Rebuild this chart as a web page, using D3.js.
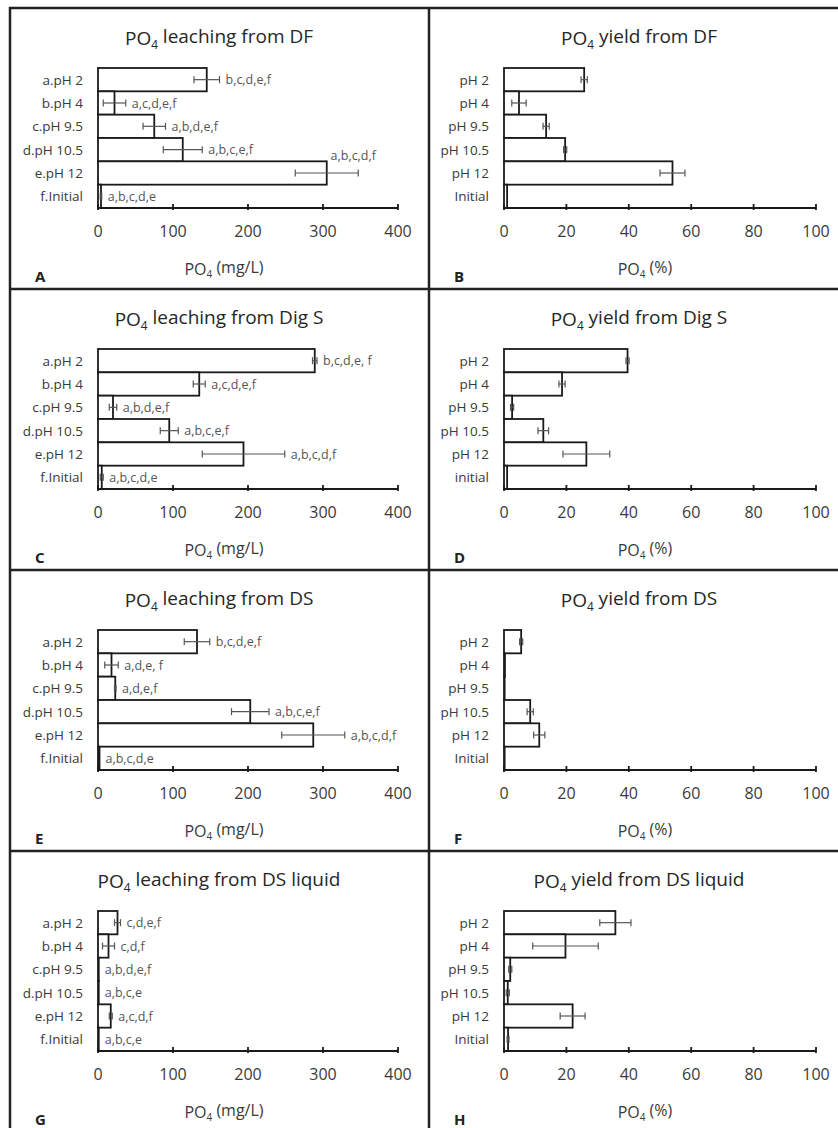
<!DOCTYPE html>
<html><head><meta charset="utf-8">
<script src="https://cdn.jsdelivr.net/npm/d3@7"></script>
<style>
html,body{margin:0;padding:0;background:#fff;}
svg{display:block;font-family:"Open Sans",Lato,sans-serif;}
</style></head>
<body>
<svg id="chart" width="838" height="1128"></svg>
<script>
// ---------- data ----------
const leachCats = ["a.pH 2","b.pH 4","c.pH 9.5","d.pH 10.5","e.pH 12","f.Initial"];
const yieldCats = ["pH 2","pH 4","pH 9.5","pH 10.5","pH 12","Initial"];
const yieldCatsDigS = ["pH 2","pH 4","pH 9.5","pH 10.5","pH 12","initial"];
const leachTicks = [0,100,200,300,400];
const yieldTicks = [0,20,40,60,80,100];

const titles = ["leaching from DF","yield from DF","leaching from Dig S","yield from Dig S",
                "leaching from DS","yield from DS","leaching from DS liquid","yield from DS liquid"];
const panelLetters = ["A","B","C","D","E","F","G","H"];

// A: PO4 leaching from DF (mg/L)
const dfLeachMean = [145, 22, 75, 113, 305, 4];
const dfLeachErr  = [17, 15, 15, 26, 42, 1];
const dfLeachSig  = ["b,c,d,e,f","a,c,d,e,f","a,b,d,e,f","a,b,c,e,f","a,b,c,d,f","a,b,c,d,e"];
// B: PO4 yield from DF (%)
const dfYieldMean = [25.7, 4.8, 13.5, 19.6, 54, 1];
const dfYieldErr  = [1, 2.3, 1, 0.5, 4, 0];
// C: PO4 leaching from Dig S (mg/L)
const digLeachMean = [289, 135, 20, 95, 194, 5];
const digLeachErr  = [3, 8, 5, 12, 55, 2];
const digLeachSig  = ["b,c,d,e, f","a,c,d,e,f","a,b,d,e,f","a,b,c,e,f","a,b,c,d,f","a,b,c,d,e"];
// D: PO4 yield from Dig S (%)
const digYieldMean = [39.6, 18.6, 2.6, 12.6, 26.4, 1];
const digYieldErr  = [0.5, 1, 0.5, 1.7, 7.5, 0];
// E: PO4 leaching from DS (mg/L)
const dsLeachMean = [132, 18, 23, 203, 287, 2];
const dsLeachErr  = [17, 9, 1, 25, 42, 0];
const dsLeachSig  = ["b,c,d,e,f","a,d,e, f","a,d,e,f","a,b,c,e,f","a,b,c,d,f","a,b,c,d,e"];
// F: PO4 yield from DS (%)
const dsYieldMean = [5.5, 0.3, 0.2, 8.4, 11.3, 0.2];
const dsYieldErr  = [0.5, 0, 0, 1, 1.8, 0];
// G: PO4 leaching from DS liquid (mg/L)
const dslLeachMean = [26, 14, 1, 1, 17, 1];
const dslLeachErr  = [4, 8, 0, 0, 2, 0];
const dslLeachSig  = ["c,d,e,f","c,d,f","a,b,d,e,f","a,b,c,e","a,c,d,f","a,b,c,e"];
// H: PO4 yield from DS liquid (%)
const dslYieldMean = [35.7, 19.7, 2, 1.2, 22, 1.3];
const dslYieldErr  = [5, 10.5, 0.5, 0.5, 4, 0.3];

const panels = [
  {cats: leachCats, mean: dfLeachMean, err: dfLeachErr, sig: dfLeachSig, ticks: leachTicks, unit: "(mg/L)"},
  {cats: yieldCats, mean: dfYieldMean, err: dfYieldErr, sig: null, ticks: yieldTicks, unit: "(%)"},
  {cats: leachCats, mean: digLeachMean, err: digLeachErr, sig: digLeachSig, ticks: leachTicks, unit: "(mg/L)"},
  {cats: yieldCatsDigS, mean: digYieldMean, err: digYieldErr, sig: null, ticks: yieldTicks, unit: "(%)"},
  {cats: leachCats, mean: dsLeachMean, err: dsLeachErr, sig: dsLeachSig, ticks: leachTicks, unit: "(mg/L)"},
  {cats: yieldCats, mean: dsYieldMean, err: dsYieldErr, sig: null, ticks: yieldTicks, unit: "(%)"},
  {cats: leachCats, mean: dslLeachMean, err: dslLeachErr, sig: dslLeachSig, ticks: leachTicks, unit: "(mg/L)"},
  {cats: yieldCats, mean: dslYieldMean, err: dslYieldErr, sig: null, ticks: yieldTicks, unit: "(%)"}
];

// ---------- layout ----------
const svg = d3.select("#chart");
const colLeft = [10, 429];
const rowTop0 = 8, rowH = 281;
const plotX = [[98, 398], [504, 816]];
const titleX = [219, 639];
const axisTitleX = [224, 645];
const textColor = "#3a3a3a";

// frame
svg.append("rect").attr("x", 10).attr("y", 8).attr("width", 900).attr("height", 1200)
  .attr("fill", "none").attr("stroke", "#222").attr("stroke-width", 2.5);
[1,2,3].forEach(r => {
  svg.append("line").attr("x1", 10).attr("x2", 900)
    .attr("y1", rowTop0 + r*rowH).attr("y2", rowTop0 + r*rowH)
    .attr("stroke", "#222").attr("stroke-width", 2.5);
});
svg.append("line").attr("x1", 429).attr("x2", 429).attr("y1", 8).attr("y2", 1200)
  .attr("stroke", "#222").attr("stroke-width", 2.5);

function po4Text(sel, rest) {
  sel.append("tspan").text("PO");
  sel.append("tspan").text("4").attr("font-size", "0.62em").attr("dy", "0.3em");
  sel.append("tspan").text(" " + rest).attr("dy", "-0.3em");
}

panels.forEach((p, i) => {
  const col = i % 2, row = Math.floor(i / 2);
  const top = rowTop0 + row * rowH;
  const g = svg.append("g");
  const maxT = p.ticks[p.ticks.length - 1];
  const x = d3.scaleLinear().domain([0, maxT]).range(plotX[col]);
  const y = d3.scaleBand().domain(p.cats).range([top + 60, top + 200]).padding(0);
  const axisY = top + 200;

  // title
  g.append("text").attr("x", titleX[col]).attr("y", top + 37)
    .attr("text-anchor", "middle").attr("font-size", 19).attr("fill", "#262626")
    .call(s => po4Text(s, titles[i]));

  // bars
  const rows = p.cats.map((c, k) => ({c, v: p.mean[k], e: p.err[k], s: p.sig ? p.sig[k] : null}));
  g.selectAll("rect.bar").data(rows).join("rect").attr("class", "bar")
    .attr("x", x(0)).attr("y", d => y(d.c))
    .attr("width", d => x(d.v) - x(0)).attr("height", y.bandwidth())
    .attr("fill", "#fff").attr("stroke", "#1a1a1a").attr("stroke-width", 1.8);

  // error bars
  const eb = g.selectAll("g.err").data(rows.filter(d => d.e > 0)).join("g").attr("class", "err")
    .attr("stroke", "#555").attr("stroke-width", 1.2);
  eb.append("line").attr("x1", d => x(d.v - d.e)).attr("x2", d => x(d.v + d.e))
    .attr("y1", d => y(d.c) + y.bandwidth()/2).attr("y2", d => y(d.c) + y.bandwidth()/2);
  eb.append("line").attr("x1", d => x(d.v - d.e)).attr("x2", d => x(d.v - d.e))
    .attr("y1", d => y(d.c) + y.bandwidth()/2 - 3.5).attr("y2", d => y(d.c) + y.bandwidth()/2 + 3.5);
  eb.append("line").attr("x1", d => x(d.v + d.e)).attr("x2", d => x(d.v + d.e))
    .attr("y1", d => y(d.c) + y.bandwidth()/2 - 3.5).attr("y2", d => y(d.c) + y.bandwidth()/2 + 3.5);

  // significance labels
  if (p.sig) {
    g.selectAll("text.sig").data(rows).join("text").attr("class", "sig")
      .attr("font-size", 12.5).attr("fill", "#555")
      .text(d => d.s)
      .each(function(d) {
        const t = d3.select(this);
        const w = this.getComputedTextLength();
        let tx = x(Math.max(d.v, d.v + d.e)) + 6;
        let ty = y(d.c) + y.bandwidth()/2 + 4.5;
        if (tx + w > plotX[col][1] + 2) { // not enough room: place above the bar end
          tx = x(d.v + d.e) - w / 2 - 5;
          ty = y(d.c) - 1;
        }
        t.attr("x", tx).attr("y", ty);
      });
  }

  // axis
  g.append("line").attr("x1", x(0)).attr("x2", x(maxT)).attr("y1", axisY).attr("y2", axisY)
    .attr("stroke", "#1a1a1a").attr("stroke-width", 1.8);
  g.selectAll("line.tick").data(p.ticks).join("line").attr("class", "tick")
    .attr("x1", d => x(d)).attr("x2", d => x(d)).attr("y1", axisY - 4).attr("y2", axisY + 2)
    .attr("stroke", "#1a1a1a").attr("stroke-width", 1.8);
  g.selectAll("text.tl").data(p.ticks).join("text").attr("class", "tl")
    .attr("x", d => x(d)).attr("y", top + 229).attr("text-anchor", "middle")
    .attr("font-size", 16).attr("fill", textColor).text(d => d);

  // category labels
  g.selectAll("text.cat").data(p.cats).join("text").attr("class", "cat")
    .attr("x", plotX[col][0] - 15).attr("y", d => y(d) + y.bandwidth()/2 + 5)
    .attr("text-anchor", "end").attr("font-size", 13.5).attr("fill", textColor).text(d => d);

  // axis title
  g.append("text").attr("x", axisTitleX[col]).attr("y", top + 267)
    .attr("text-anchor", "middle").attr("font-size", 16).attr("fill", textColor)
    .call(s => po4Text(s, p.unit));

  // panel letter
  g.append("text").attr("x", colLeft[col] + 25).attr("y", top + 274)
    .attr("font-size", 15).attr("font-weight", "bold").attr("fill", "#222").text(panelLetters[i]);
});
</script>
</body></html>
